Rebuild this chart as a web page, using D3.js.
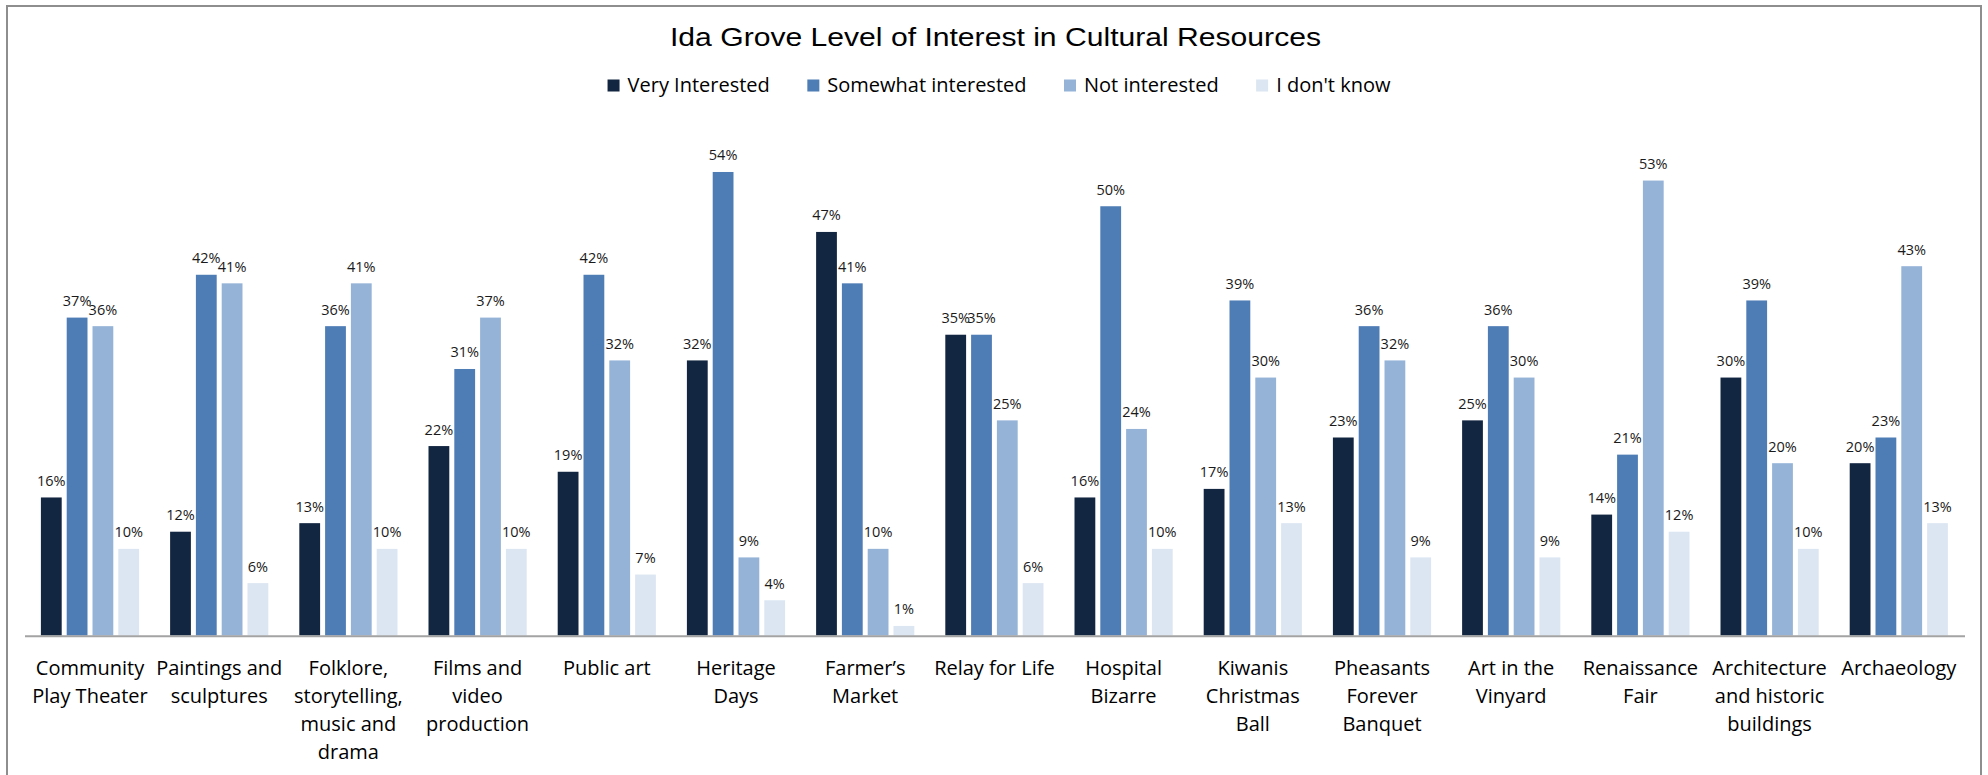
<!DOCTYPE html>
<html>
<head>
<meta charset="utf-8">
<script src="https://cdn.jsdelivr.net/npm/d3@7/dist/d3.min.js"></script>
<style>
  html, body { margin: 0; padding: 0; background: #ffffff; }
  svg { display: block; }
</style>
</head>
<body>
<svg id="chart" width="1988" height="775"></svg>
<script>
// ---- data ----
const title = "Ida Grove Level of Interest in Cultural Resources";
const categories = [
  "Community\nPlay Theater",
  "Paintings and\nsculptures",
  "Folklore,\nstorytelling,\nmusic and\ndrama",
  "Films and\nvideo\nproduction",
  "Public art",
  "Heritage\nDays",
  "Farmer\u2019s\nMarket",
  "Relay for Life",
  "Hospital\nBizarre",
  "Kiwanis\nChristmas\nBall",
  "Pheasants\nForever\nBanquet",
  "Art in the\nVinyard",
  "Renaissance\nFair",
  "Architecture\nand historic\nbuildings",
  "Archaeology"
];
const seriesNames = ["Very Interested", "Somewhat interested", "Not interested", "I don't know"];
const veryInterested     = [16, 12, 13, 22, 19, 32, 47, 35, 16, 17, 23, 25, 14, 30, 20];
const somewhatInterested = [37, 42, 36, 31, 42, 54, 41, 35, 50, 39, 36, 36, 21, 39, 23];
const notInterested      = [36, 41, 41, 37, 32,  9, 10, 25, 24, 30, 32, 30, 53, 20, 43];
const dontKnow           = [10,  6, 10, 10,  7,  4,  1,  6, 10, 13,  9,  9, 12, 10, 13];
const seriesValues = [veryInterested, somewhatInterested, notInterested, dontKnow];
const colors = ["#132641", "#4e7cb5", "#95b3d7", "#dce6f2"];

// ---- layout ----
const svg = d3.select("#chart");
const W = 1988, H = 775;
const plotLeft = 25.4, plotRight = 1963.4;
const y0 = 634.5;

// outer frame
svg.append("rect")
  .attr("x", 7).attr("y", 6)
  .attr("width", 1974).attr("height", 800)
  .attr("fill", "none").attr("stroke", "#8e8e8e").attr("stroke-width", 2);

// title
svg.append("text")
  .attr("x", 995.5).attr("y", 45.7)
  .attr("text-anchor", "middle")
  .attr("font-family", "'Liberation Sans', Arial, sans-serif")
  .attr("font-size", 26)
  .attr("textLength", 651)
  .attr("lengthAdjust", "spacingAndGlyphs")
  .attr("fill", "#000")
  .text(title);

// legend
const legendFont = "'Open Sans', sans-serif";
const legend = svg.append("g");
let lx = 0;
const items = [];
seriesNames.forEach((name, i) => {
  const g = legend.append("g");
  g.append("rect").attr("x", 0).attr("y", -12.2).attr("width", 12).attr("height", 12).attr("fill", colors[i]);
  const t = g.append("text").attr("x", 20).attr("y", 0)
    .attr("font-family", legendFont).attr("font-size", 20).attr("fill", "#000").text(name);
  const w = t.node().getComputedTextLength();
  g.attr("transform", `translate(${lx},91.7)`);
  lx += 20 + w + 37.5;
  items.push(g);
});
const legendWidth = lx - 37.5;
legend.attr("transform", `translate(${999 - legendWidth / 2},0)`);

// scales
const x0 = d3.scaleBand()
  .domain(d3.range(categories.length))
  .range([plotLeft, plotRight])
  .paddingInner(0.24)
  .paddingOuter(0.12);

const x1 = d3.scaleBand()
  .domain(d3.range(seriesNames.length))
  .range([0, x0.bandwidth()])
  .paddingInner(0.194)
  .paddingOuter(0);

const y = d3.scaleLinear().domain([0, 60]).range([y0, y0 - 60 * 8.565]);

// bars
const groups = svg.append("g").selectAll("g")
  .data(categories.map((c, i) => i))
  .join("g")
  .attr("transform", i => `translate(${x0(i)},0)`);

groups.selectAll("rect")
  .data(i => seriesValues.map((vals, s) => ({ s, v: vals[i] })))
  .join("rect")
  .attr("x", d => x1(d.s))
  .attr("y", d => y(d.v))
  .attr("width", x1.bandwidth())
  .attr("height", d => y(0) - y(d.v) + 1)
  .attr("fill", d => colors[d.s]);

groups.selectAll("text.val")
  .data(i => seriesValues.map((vals, s) => ({ s, v: vals[i] })))
  .join("text")
  .attr("class", "val")
  .attr("x", d => x1(d.s) + x1.bandwidth() / 2)
  .attr("y", d => y(d.v) - 11.5)
  .attr("text-anchor", "middle")
  .attr("font-family", legendFont)
  .attr("font-size", 14.5)
  .attr("fill", "#1a1a1a")
  .text(d => d.v + "%");

// x axis line
svg.append("line")
  .attr("x1", 25).attr("x2", 1965)
  .attr("y1", 636.2).attr("y2", 636.2)
  .attr("stroke", "#a3a3a3").attr("stroke-width", 2);

// category labels
const cat = svg.append("g");
categories.forEach((c, i) => {
  const cx = x0(i) + x0.bandwidth() / 2;
  const t = cat.append("text")
    .attr("text-anchor", "middle")
    .attr("font-family", legendFont)
    .attr("font-size", 20)
    .attr("fill", "#000");
  c.split("\n").forEach((line, k) => {
    t.append("tspan").attr("x", cx).attr("y", 675 + k * 27.9).text(line);
  });
});
</script>
</body>
</html>
